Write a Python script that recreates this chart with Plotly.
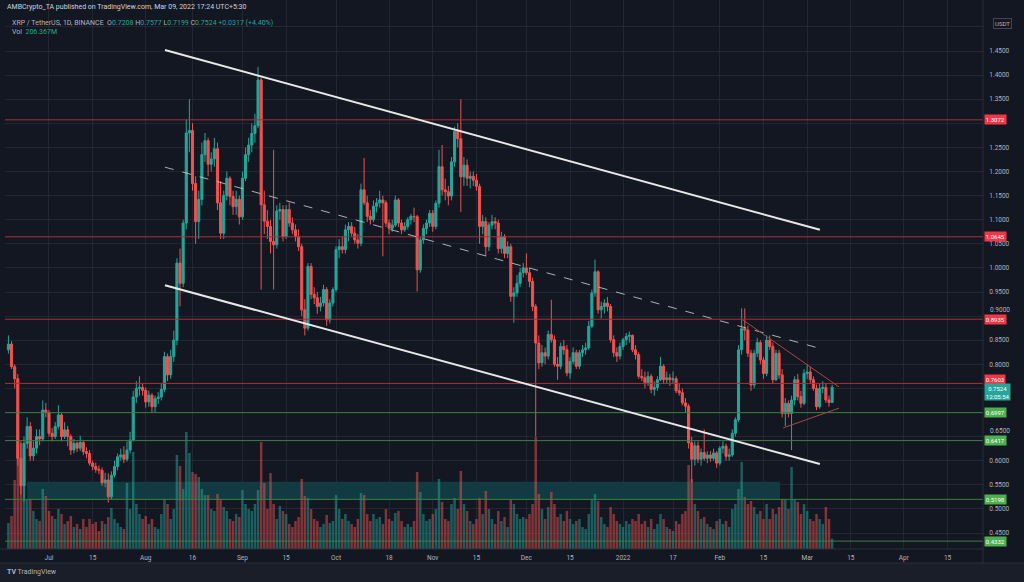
import plotly.graph_objects as go
import pandas as pd

# XRP / TetherUS, 1D, Binance -- daily candles 18 Jun 2021 .. 9 Mar 2022
dates = pd.date_range("2021-06-18", "2022-03-09", freq="D")

opens = [
    # Jun
    .830, .842, .795, .770, .605, .548, .636, .671, .610, .626, .650, .645, .705,
    # Jul
    .700, .657, .650, .671, .695, .650, .664, .650, .622, .636, .626, .638, .619, .615, .595, .588,
    .582, .580, .554, .560, .525, .570, .588, .608, .612, .603, .622, .643, .732, .750, .752,
    # Aug
    .746, .722, .736, .712, .729, .732, .748, .816, .778, .816, .850, 1.010, .968, 1.093, 1.280, 1.285,
    1.175, 1.096, 1.142, 1.235, 1.264, 1.215, 1.226, 1.247, 1.135, 1.072, 1.150, 1.186, 1.148, 1.127, 1.142,
    # Sep
    1.106, 1.186, 1.235, 1.255, 1.279, 1.295, 1.390, 1.131, 1.097, 1.086, 1.055, 1.048, 1.118, 1.121, 1.065,
    1.121, 1.093, 1.079, 1.065, 1.044, .913, .875, 1.003, .945, .938, .920, .927, .955, .892, .927,
    # Oct
    .955, 1.038, 1.044, 1.038, 1.079, 1.086, 1.072, 1.058, 1.051, 1.162, 1.135, 1.107, 1.100, 1.128, 1.135, 1.141,
    1.135, 1.093, 1.082, 1.089, 1.141, 1.093, 1.079, 1.086, 1.100, 1.107, 1.106, .996, 1.058, 1.082, 1.093,
    # Nov
    1.113, 1.086, 1.134, 1.210, 1.162, 1.158, 1.149, 1.220, 1.283, 1.268, 1.189, 1.213, 1.186, 1.190, 1.182,
    1.169, 1.086, 1.096, 1.044, 1.089, 1.096, 1.093, 1.040, 1.065, 1.030, 1.044, .941, .948, .968, .990,
    # Dec
    1.000, .990, .972, .920, .844, .803, .824, .817, .862, .851, .800, .796, .837, .830, .782, .806,
    .824, .796, .824, .830, .834, .879, .948, .992, .913, .920, .927, .920, .851, .824, .817,
    # Jan
    .837, .851, .858, .860, .830, .820, .775, .772, .762, .775, .748, .752, .768, .796, .768, .772,
    .768, .770, .745, .741, .720, .713, .637, .603, .631, .603, .617, .605, .612, .605, .616,
    # Feb
    .595, .626, .630, .609, .612, .657, .685, .830, .874, .871, .823, .757, .823, .845,
    .809, .781, .850, .837, .768, .823, .778, .698, .719, .698, .726, .768, .733, .719,
    # Mar
    .781, .784, .768, .750, .712, .750, .752, .726, .7208,
]

highs = [
    .860, .848, .800, .780, .640, .650, .690, .680, .640, .665, .665, .725, .720,
    .705, .668, .680, .715, .700, .680, .672, .655, .645, .640, .652, .642, .628, .622, .600, .596,
    .590, .586, .575, .574, .578, .600, .615, .625, .630, .640, .660, .745, .765, .775, .760,
    .752, .745, .740, .735, .742, .760, .826, .822, .830, .870, 1.020, 1.040, 1.100, 1.308, 1.350, 1.300,
    1.190, 1.160, 1.260, 1.280, 1.270, 1.240, 1.270, 1.260, 1.180, 1.160, 1.200, 1.190, 1.160, 1.160, 1.150,
    1.200, 1.250, 1.270, 1.300, 1.320, 1.417, 1.395, 1.160, 1.120, 1.100, 1.245, 1.130, 1.135, 1.130, 1.130,
    1.135, 1.105, 1.090, 1.080, 1.050, .935, 1.010, 1.010, .960, .950, .940, .965, .960, .935, .960,
    1.045, 1.060, 1.065, 1.090, 1.095, 1.095, 1.085, 1.070, 1.175, 1.228, 1.150, 1.120, 1.140, 1.145, 1.160, 1.150,
    1.140, 1.100, 1.100, 1.150, 1.145, 1.100, 1.095, 1.105, 1.112, 1.125, 1.110, 1.065, 1.090, 1.100, 1.120,
    1.120, 1.140, 1.245, 1.255, 1.185, 1.170, 1.230, 1.293, 1.300, 1.350, 1.230, 1.225, 1.200, 1.200, 1.195,
    1.175, 1.110, 1.105, 1.095, 1.110, 1.105, 1.100, 1.075, 1.070, 1.055, 1.050, .960, .985, 1.000, 1.010,
    1.030, 1.000, .980, .925, .860, .840, .835, .870, .934, .860, .815, .845, .850, .840, .815, .835,
    .830, .830, .840, .845, .890, .955, 1.017, .995, .930, .935, .940, .925, .860, .835, .845,
    .855, .865, .868, .862, .840, .825, .790, .785, .785, .780, .765, .775, .815, .800, .785, .780,
    .785, .775, .760, .750, .730, .718, .650, .640, .640, .625, .665, .620, .620, .625, .620,
    .630, .640, .635, .625, .665, .690, .840, .916, .916, .880, .830, .830, .855, .850,
    .815, .860, .860, .845, .830, .830, .790, .730, .725, .735, .775, .780, .745, .790,
    .800, .795, .775, .758, .760, .765, .760, .735, .7577,
]

lows = [
    .822, .790, .750, .590, .530, .515, .625, .600, .600, .615, .632, .640, .690,
    .650, .640, .645, .665, .640, .645, .630, .612, .615, .618, .620, .612, .605, .590, .580, .575,
    .572, .548, .545, .513, .520, .565, .580, .600, .595, .598, .615, .640, .720, .735, .735,
    .710, .712, .700, .700, .718, .725, .742, .765, .770, .805, .840, .920, .960, 1.080, 1.240, 1.160,
    1.050, 1.060, 1.130, 1.220, 1.190, 1.200, 1.210, 1.120, 1.060, 1.060, 1.140, 1.130, 1.110, 1.110, 1.090,
    1.100, 1.180, 1.220, 1.240, 1.260, 1.290, .955, 1.070, 1.060, 1.030, .955, 1.040, 1.100, 1.055, 1.060,
    1.085, 1.070, 1.055, 1.035, .900, .860, .870, .935, .925, .905, .910, .920, .880, .885, .920,
    .950, 1.020, 1.030, 1.030, 1.055, 1.065, 1.050, 1.040, 1.045, 1.130, 1.095, 1.090, 1.095, 1.115, 1.125, 1.024,
    1.085, 1.070, 1.075, 1.085, 1.085, 1.070, 1.075, 1.080, 1.090, 1.095, .951, .990, 1.050, 1.070, 1.085,
    1.075, 1.080, 1.125, 1.150, 1.140, 1.130, 1.140, 1.210, 1.250, 1.116, 1.170, 1.170, 1.165, 1.170, 1.160,
    1.050, 1.070, 1.024, 1.035, 1.080, 1.080, 1.030, 1.030, 1.020, 1.020, .930, .886, .940, .960, .980,
    .985, .960, .910, .650, .790, .795, .800, .810, .845, .795, .768, .790, .820, .775, .770, .800,
    .790, .790, .815, .820, .830, .875, .940, .905, .895, .905, .910, .845, .815, .805, .810,
    .830, .840, .845, .825, .810, .770, .765, .750, .755, .740, .735, .745, .765, .760, .760, .755,
    .760, .740, .735, .715, .700, .625, .555, .590, .595, .590, .600, .595, .598, .600, .585,
    .590, .615, .600, .600, .608, .650, .680, .820, .850, .815, .745, .750, .815, .800,
    .770, .775, .830, .760, .765, .770, .690, .672, .690, .622, .715, .725, .710, .715,
    .770, .760, .745, .705, .708, .740, .720, .712, .7199,
]

closes = [
    .842, .795, .770, .605, .548, .636, .671, .610, .626, .650, .645, .705, .700,
    .657, .650, .671, .695, .650, .664, .650, .622, .636, .626, .638, .619, .615, .595, .588, .582,
    .580, .554, .560, .525, .570, .588, .608, .612, .603, .622, .643, .732, .750, .752, .746,
    .722, .736, .712, .729, .732, .748, .816, .778, .816, .850, 1.010, .968, 1.093, 1.280, 1.285, 1.175,
    1.096, 1.142, 1.235, 1.264, 1.215, 1.226, 1.247, 1.135, 1.072, 1.150, 1.186, 1.148, 1.127, 1.142, 1.106,
    1.186, 1.235, 1.255, 1.279, 1.295, 1.390, 1.131, 1.097, 1.086, 1.055, 1.048, 1.118, 1.121, 1.065, 1.121,
    1.093, 1.079, 1.065, 1.044, .913, .875, 1.003, .945, .938, .920, .927, .955, .892, .927, .955,
    1.038, 1.044, 1.038, 1.079, 1.086, 1.072, 1.058, 1.051, 1.162, 1.135, 1.107, 1.100, 1.128, 1.135, 1.141, 1.135,
    1.093, 1.082, 1.089, 1.141, 1.093, 1.079, 1.086, 1.100, 1.107, 1.106, .996, 1.058, 1.082, 1.093, 1.113,
    1.086, 1.134, 1.210, 1.162, 1.158, 1.149, 1.220, 1.283, 1.268, 1.189, 1.213, 1.186, 1.190, 1.182, 1.169,
    1.086, 1.096, 1.044, 1.089, 1.096, 1.093, 1.040, 1.065, 1.030, 1.044, .941, .948, .968, .990, 1.000,
    .990, .972, .920, .844, .803, .824, .817, .862, .851, .800, .796, .837, .830, .782, .806, .824,
    .796, .824, .830, .834, .879, .948, .992, .913, .920, .927, .920, .851, .824, .817, .837,
    .851, .858, .860, .830, .820, .775, .772, .762, .775, .748, .752, .768, .796, .768, .772, .768,
    .770, .745, .741, .720, .713, .637, .603, .631, .603, .617, .605, .612, .605, .616, .595,
    .626, .630, .609, .612, .657, .685, .830, .874, .871, .823, .757, .823, .845, .809,
    .781, .850, .837, .768, .823, .778, .698, .719, .698, .726, .768, .733, .719, .781,
    .784, .768, .750, .712, .750, .752, .726, .7208, .7524,
]

# volume in millions of XRP
volumes = [
    520, 660, 1380, 2680, 2120, 1460, 980, 1000, 760, 600, 560, 1200, 1060,
    760, 660, 600, 800, 700, 500, 560, 660, 440, 500, 400, 600, 440, 600, 500, 540,
    360, 560, 500, 640, 820, 600, 520, 440, 400, 1320, 800, 1940, 900, 700, 600,
    660, 500, 600, 440, 400, 700, 1000, 900, 600, 800, 1880, 1660, 1200, 2340, 1920, 1540,
    1500, 1440, 1200, 1080, 1080, 800, 760, 1100, 1000, 840, 760, 600, 560, 700, 640,
    1180, 900, 800, 760, 900, 1180, 2140, 1320, 800, 1520, 900, 600, 860, 760, 700,
    500, 440, 560, 640, 1400, 1060, 1020, 800, 600, 560, 440, 500, 680, 520, 560,
    1080, 800, 600, 700, 560, 500, 440, 600, 1120, 1080, 700, 560, 700, 600, 640, 500,
    800, 600, 560, 720, 760, 560, 440, 500, 440, 560, 1540, 1140, 700, 560, 600,
    700, 800, 1400, 940, 600, 560, 900, 1020, 800, 1560, 900, 760, 560, 500, 600,
    1020, 700, 1160, 800, 600, 500, 760, 560, 640, 440, 980, 900, 700, 600, 640,
    600, 700, 900, 2240, 1100, 800, 600, 840, 1140, 900, 640, 700, 560, 760, 600, 500,
    560, 600, 440, 400, 700, 1000, 1100, 960, 640, 500, 440, 840, 700, 560, 500,
    440, 560, 500, 600, 560, 700, 500, 560, 440, 600, 400, 500, 700, 600, 440, 400,
    360, 560, 500, 700, 760, 1680, 1400, 900, 760, 600, 640, 500, 440, 400, 560,
    600, 500, 560, 440, 800, 900, 1200, 1740, 1040, 900, 960, 840, 700, 760,
    600, 900, 600, 800, 700, 840, 1000, 1000, 800, 1640, 1000, 940, 700, 900,
    760, 600, 560, 700, 600, 500, 840, 600, 206.367,
]

red_levels = [1.3072, 1.0645, 0.8935, 0.7603]
green_levels = [0.6997, 0.6417, 0.5198, 0.4332]
last_price = 0.7524
day_change = "+0.0317 (+4.40%)"
countdown = "12:05:54"

# drawings: (start date, start price, end date, end price)
channel_top = ("2021-08-07 04:00", 1.452, "2022-03-05 02:00", 1.079)
channel_mid = ("2021-08-07 04:00", 1.209, "2022-03-05 02:00", 0.833)
channel_bot = ("2021-08-07 04:00", 0.964, "2022-03-05 02:00", 0.593)
wedge_top = ("2022-02-08 10:00", 0.892, "2022-03-11 05:00", 0.753)
wedge_bot = ("2022-02-21 07:00", 0.668, "2022-03-11 05:00", 0.709)
demand_zone = ("2021-06-24", 0.5185, "2022-02-20 07:00", 0.5564)

price_ticks = [round(0.45 + 0.05 * k, 2) for k in range(22)]
hidden_ticks = [1.50, 1.30, 0.75, 0.70]
# labels that TradingView nudges up to sit just above a level badge
nudged_ticks = [0.90, 0.65]
date_ticks = ["2021-07-01", "2021-07-15", "2021-08-01", "2021-08-16", "2021-09-01", "2021-09-15",
              "2021-10-01", "2021-10-18", "2021-11-01", "2021-11-15", "2021-12-01", "2021-12-15",
              "2022-01-01", "2022-01-17", "2022-02-01", "2022-02-15", "2022-03-01", "2022-03-15",
              "2022-04-01", "2022-04-15"]
date_labels = ["Jul", "15", "Aug", "16", "Sep", "15", "Oct", "18", "Nov", "15", "Dec", "15",
               "2022", "17", "Feb", "15", "Mar", "15", "Apr", "15"]

UP = "#26a69a"
DOWN = "#ef5350"
BG = "#131722"
TXT = "#b2b5be"
FS = 6.5

# pixel helpers for things living outside the data area
PL, PR, PB = 5, 983, 549


def px_x(px):
    return (px - PL) / (PR - PL)


def px_y(py):
    return (PB - py) / PB


vol_colors = ["rgba(38,166,154,0.5)" if c >= o else "rgba(239,83,80,0.5)" for o, c in zip(opens, closes)]

fig = go.Figure()
fig.add_trace(go.Bar(x=dates, y=volumes, yaxis="y2", marker_color=vol_colors,
                     marker_line_width=0, width=0.8 * 86400000, hoverinfo="skip"))
fig.add_trace(go.Candlestick(
    x=dates, open=opens, high=highs, low=lows, close=closes,
    increasing=dict(line=dict(color=UP, width=1), fillcolor=UP),
    decreasing=dict(line=dict(color=DOWN, width=1), fillcolor=DOWN),
    whiskerwidth=0,
))

shapes = []
x0, y0, x1, y1 = demand_zone
shapes.append(dict(type="rect", xref="x", yref="y", x0=x0, x1=x1, y0=y0, y1=y1,
                   fillcolor="#123a42", line_width=0, layer="between"))
for lv in red_levels:
    shapes.append(dict(type="line", xref="paper", yref="y", x0=0, x1=1, y0=lv, y1=lv,
                       line=dict(color="#a8313a", width=1)))
for lv in green_levels:
    shapes.append(dict(type="line", xref="paper", yref="y", x0=0, x1=1, y0=lv, y1=lv,
                       line=dict(color="#3c7f41", width=1)))
for (a, pa, b, pb), col, w, dash in [
    (channel_top, "#e8e8e8", 2, "solid"),
    (channel_bot, "#e8e8e8", 2, "solid"),
    (channel_mid, "rgba(200,202,208,0.85)", 1, "dash"),
    (wedge_top, "#a9483f", 1, "solid"),
    (wedge_bot, "#a9483f", 1, "solid"),
]:
    shapes.append(dict(type="line", xref="x", yref="y", x0=a, y0=pa, x1=b, y1=pb,
                       line=dict(color=col, width=w, dash=dash)))

# frame: axis borders, bottom strip
shapes.append(dict(type="rect", xref="paper", yref="paper", x0=px_x(0), x1=px_x(1024),
                   y0=px_y(582), y1=px_y(563), fillcolor="#1a1e29", line_width=0))
shapes.append(dict(type="line", xref="paper", yref="paper", x0=px_x(0), x1=px_x(1024),
                   y0=px_y(563), y1=px_y(563), line=dict(color="#2a2e39", width=1)))
shapes.append(dict(type="line", xref="paper", yref="paper", x0=px_x(0), x1=1,
                   y0=0, y1=0, line=dict(color="#2a2e39", width=1)))
shapes.append(dict(type="line", xref="paper", yref="paper", x0=1, x1=1,
                   y0=px_y(563), y1=1, line=dict(color="#2a2e39", width=1)))

annotations = []

for v in nudged_ticks:
    annotations.append(dict(xref="paper", yref="y", x=px_x(988), y=v, xanchor="left",
                            yanchor="bottom", yshift=0, text=f"{v:.4f}", showarrow=False,
                            font=dict(color=TXT, size=FS)))


def badge(price, text, color, yshift=0, yanchor="middle"):
    annotations.append(dict(xref="paper", yref="y", x=px_x(984), y=price, xanchor="left",
                            yanchor=yanchor, text=text, showarrow=False, bgcolor=color,
                            borderpad=0.8, font=dict(color="#ffffff", size=6),
                            yshift=yshift))


for lv in red_levels:
    badge(lv, f"{lv:.4f}", "#f23645", yshift=4 if lv == 0.7603 else 0)
for lv in green_levels:
    badge(lv, f"{lv:.4f}", "#4caf50")
badge(last_price, f"{last_price:.4f}<br>{countdown}", UP, yshift=4, yanchor="top")

annotations.append(dict(xref="paper", yref="paper", x=px_x(993), y=px_y(23), xanchor="left",
                        yanchor="middle", text="USDT", showarrow=False, bgcolor=BG,
                        bordercolor="#434651", borderwidth=1, borderpad=1,
                        font=dict(color=TXT, size=6)))

annotations.append(dict(xref="paper", yref="paper", x=px_x(5), y=px_y(7), xanchor="left",
                        yanchor="middle", showarrow=False, font=dict(color="#d1d4dc", size=7),
                        text="AMBCrypto_TA published on TradingView.com, Mar 09, 2022 17:24 UTC+5:30"))


def t(s):
    return f"<span style='color:{UP}'>{s}</span>"


ohlc_line = (f"XRP / TetherUS, 1D, BINANCE  O{t(f'{opens[-1]:.4f}')} H{t(f'{highs[-1]:.4f}')} "
             f"L{t(f'{lows[-1]:.4f}')} C{t(f'{closes[-1]:.4f}')} " + t(day_change))
annotations.append(dict(xref="paper", yref="paper", x=px_x(10), y=px_y(23), xanchor="left",
                        yanchor="middle", showarrow=False, font=dict(color=TXT, size=7), text=ohlc_line))
annotations.append(dict(xref="paper", yref="paper", x=px_x(10), y=px_y(32), xanchor="left",
                        yanchor="middle", showarrow=False, font=dict(color=TXT, size=7),
                        text="Vol  " + t(f"{volumes[-1]:.3f}M")))
annotations.append(dict(xref="paper", yref="paper", x=px_x(5), y=px_y(572), xanchor="left",
                        yanchor="middle", showarrow=False, font=dict(color=TXT, size=7),
                        text="<b>TV</b> TradingView"))

fig.update_layout(
    width=1024, height=582,
    margin=dict(l=PL, r=1024 - PR, t=0, b=582 - PB, autoexpand=False),
    paper_bgcolor=BG, plot_bgcolor=BG,
    showlegend=False,
    boxgap=0.05,
    font=dict(family="Roboto", size=FS, color=TXT),
    shapes=shapes, annotations=annotations,
    xaxis=dict(type="date", range=["2021-06-16 21:36", "2022-04-26 08:38"],
               tickvals=date_ticks, ticktext=date_labels, showgrid=True, automargin=False,
               gridcolor="rgba(54,58,69,0.45)", zeroline=False, showline=False,
               rangeslider=dict(visible=False), ticks="outside", ticklen=2, tickcolor=BG,
               tickfont=dict(size=FS, color=TXT)),
    yaxis=dict(side="right", range=[0.4168, 1.5558], tickvals=price_ticks, automargin=False,
               ticktext=["" if (v in hidden_ticks or v in nudged_ticks) else f"{v:.4f}"
                         for v in price_ticks],
               showgrid=True, gridcolor="rgba(54,58,69,0.45)", zeroline=False,
               ticks="outside", ticklen=4, tickcolor=BG, tickfont=dict(size=FS, color=TXT)),
    yaxis2=dict(overlaying="y", range=[0, 10980], visible=False),
)

# the page's default body margin would push the figure 8px down/right
page_fix = "document.body.style.margin='0'; document.body.style.background='#131722';"
fig.write_html("out.html", post_script=page_fix, config={"displayModeBar": False})
